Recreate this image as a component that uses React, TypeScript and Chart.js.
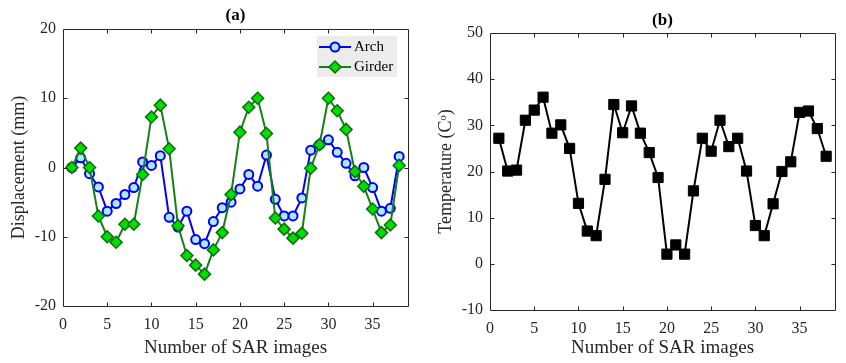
import React, { useEffect, useRef } from "react";
import { Chart, registerables } from "chart.js";

Chart.register(...registerables);

// ---------------- data ----------------
const imageNumbers = [1, 2, 3, 4, 5, 6, 7, 8, 9, 10, 11, 12, 13, 14, 15, 16, 17, 18, 19, 20, 21, 22, 23, 24, 25, 26, 27, 28, 29, 30, 31, 32, 33, 34, 35, 36, 37, 38];

const archDisplacement = [0, 1.4, -0.9, -2.8, -6.3, -5.2, -3.9, -2.9, 0.8, 0.3, 1.7, -7.2, -8.6, -6.3, -10.4, -11.0, -7.8, -5.8, -5.0, -3.1, -1.0, -2.7, 1.8, -4.6, -7.0, -7.0, -4.4, 2.5, 3.3, 4.0, 2.2, 0.6, -1.2, 0.0, -2.9, -6.3, -5.9, 1.6];

const girderDisplacement = [0, 2.8, 0.0, -7.0, -10.0, -10.8, -8.2, -8.2, -1.0, 7.3, 9.0, 2.7, -8.4, -12.7, -14.1, -15.4, -11.9, -9.4, -3.9, 5.1, 8.7, 10.0, 4.9, -7.3, -8.9, -10.2, -9.5, -0.1, 3.3, 10.0, 8.2, 5.5, -0.6, -2.7, -6.0, -9.4, -8.3, 0.3];

const temperature = [27.2, 20.1, 20.3, 31.1, 33.3, 36.1, 28.3, 30.1, 25.0, 13.1, 7.1, 6.1, 18.3, 34.5, 28.4, 34.2, 28.3, 24.1, 18.7, 2.1, 4.1, 2.1, 15.8, 27.2, 24.4, 31.1, 25.4, 27.2, 20.1, 8.3, 6.1, 13.0, 20.0, 22.1, 32.8, 33.1, 29.3, 23.3];

const xTicks = [0, 5, 10, 15, 20, 25, 30, 35];
const dispTicks = [-20, -10, 0, 10, 20];
const tempTicks = [-10, 0, 10, 20, 30, 40, 50];

const xTitle = "Number of SAR images";
const dispTitle = "Displacement (mm)";
const tempTitle = "Temperature (C\u1D52)";

// ---------------- styling ----------------
const SERIF = "'Liberation Serif', 'Times New Roman', serif";
const AXIS_COLOR = "#262626";

const frameAndTicks = {
  id: "frameAndTicks",
  afterDatasetsDraw(chart: any) {
    const { ctx, chartArea } = chart;
    const left = Math.round(chartArea.left) + 0.5;
    const right = Math.round(chartArea.right) + 0.5;
    const top = Math.round(chartArea.top) + 0.5;
    const bottom = Math.round(chartArea.bottom) + 0.5;
    const tl = 4;
    ctx.save();
    ctx.strokeStyle = AXIS_COLOR;
    ctx.lineWidth = 1;
    ctx.beginPath();
    ctx.rect(left, top, right - left, bottom - top);
    const xs = chart.scales.x;
    xs.ticks.forEach((t: any) => {
      const p = Math.round(xs.getPixelForValue(t.value)) + 0.5;
      if (p <= left + 1 || p >= right - 1) return;
      ctx.moveTo(p, bottom);
      ctx.lineTo(p, bottom - tl);
      ctx.moveTo(p, top);
      ctx.lineTo(p, top + tl);
    });
    const ys = chart.scales.y;
    ys.ticks.forEach((t: any) => {
      const p = Math.round(ys.getPixelForValue(t.value)) + 0.5;
      if (p <= top + 1 || p >= bottom - 1) return;
      ctx.moveTo(left, p);
      ctx.lineTo(left + tl, p);
      ctx.moveTo(right, p);
      ctx.lineTo(right - tl, p);
    });
    ctx.stroke();
    ctx.restore();
  },
};

const insideLegend = {
  id: "insideLegend",
  afterDraw(chart: any, _args: any, opts: any) {
    if (!opts || !opts.show) return;
    const { ctx, chartArea } = chart;
    const w = 80;
    const h = 41;
    const x0 = chartArea.right - 11 - w;
    const y0 = chartArea.top + 7;
    ctx.save();
    ctx.fillStyle = "#ececec";
    ctx.fillRect(x0, y0, w, h);
    const sets = chart.data.datasets;
    sets.forEach((ds: any, i: number) => {
      const cy = y0 + 11 + i * 20;
      const lx0 = x0 + 2;
      const lx1 = x0 + 34;
      const mx = (lx0 + lx1) / 2;
      ctx.strokeStyle = ds.borderColor;
      ctx.lineWidth = ds.borderWidth;
      ctx.beginPath();
      ctx.moveTo(lx0, cy);
      ctx.lineTo(lx1, cy);
      ctx.stroke();
      ctx.fillStyle = ds.pointBackgroundColor;
      ctx.strokeStyle = ds.pointBorderColor;
      ctx.lineWidth = ds.pointBorderWidth;
      const r = ds.pointRadius;
      ctx.beginPath();
      if (ds.pointStyle === "rectRot") {
        ctx.moveTo(mx - r, cy);
        ctx.lineTo(mx, cy - r);
        ctx.lineTo(mx + r, cy);
        ctx.lineTo(mx, cy + r);
        ctx.closePath();
      } else {
        ctx.arc(mx, cy, r, 0, Math.PI * 2);
      }
      ctx.fill();
      ctx.stroke();
      ctx.fillStyle = "#000";
      ctx.font = `15px ${SERIF}`;
      ctx.textBaseline = "middle";
      ctx.textAlign = "left";
      ctx.fillText(ds.label, x0 + 37, cy + 0.5);
    });
    ctx.restore();
  },
};

function fixedTicks(values: number[]) {
  return (scale: any) => {
    scale.ticks = values.map((v) => ({ value: v }));
  };
}

function buildOptions(p: {
  title: string;
  titlePad: { top: number; bottom: number };
  yMin: number;
  yMax: number;
  yTicks: number[];
  yTitle: string;
  yTitlePad: number;
  yWidth: number;
  xHeight: number;
  rightPad: number;
  legend: boolean;
}) {
  return {
    responsive: false,
    animation: false,
    devicePixelRatio: 1,
    layout: { padding: { left: 0, right: p.rightPad, top: 0, bottom: 0 } },
    plugins: {
      legend: { display: false },
      tooltip: { enabled: false },
      insideLegend: { show: p.legend },
      title: {
        display: true,
        text: p.title,
        fullSize: false,
        color: "#000",
        font: { family: SERIF, size: 17, weight: "bold", lineHeight: 1.2 },
        padding: p.titlePad,
      },
    },
    scales: {
      x: {
        type: "linear",
        min: 0,
        max: 39,
        afterBuildTicks: fixedTicks(xTicks),
        afterFit: (s: any) => {
          s.height = p.xHeight;
        },
        grid: { display: false, drawTicks: false },
        border: { display: false },
        ticks: {
          autoSkip: false,
          maxRotation: 0,
          padding: 9,
          color: AXIS_COLOR,
          font: { family: SERIF, size: 16 },
        },
        title: {
          display: true,
          text: xTitle,
          color: AXIS_COLOR,
          font: { family: SERIF, size: 19, lineHeight: 1.2 },
          padding: { top: 0, bottom: 4 },
        },
      },
      y: {
        type: "linear",
        min: p.yMin,
        max: p.yMax,
        afterBuildTicks: fixedTicks(p.yTicks),
        afterFit: (s: any) => {
          s.width = p.yWidth;
        },
        grid: { display: false, drawTicks: false },
        border: { display: false },
        ticks: {
          autoSkip: false,
          padding: 7,
          color: AXIS_COLOR,
          font: { family: SERIF, size: 16 },
        },
        title: {
          display: true,
          text: p.yTitle,
          color: AXIS_COLOR,
          font: { family: SERIF, size: 18, lineHeight: 1.2 },
          padding: { top: p.yTitlePad, bottom: 0 },
        },
      },
    },
  };
}

export default function App() {
  const refA = useRef<HTMLCanvasElement>(null);
  const refB = useRef<HTMLCanvasElement>(null);

  useEffect(() => {
    const chartA = new Chart(refA.current as HTMLCanvasElement, {
      type: "line",
      data: {
        datasets: [
          {
            label: "Arch",
            data: imageNumbers.map((x, i) => ({ x, y: archDisplacement[i] })),
            borderColor: "#0000ff",
            borderWidth: 2,
            pointStyle: "circle",
            pointRadius: 4.5,
            pointBorderWidth: 2,
            pointBorderColor: "#0000ff",
            pointBackgroundColor: "#aee8fa",
            tension: 0,
            order: 1,
          },
          {
            label: "Girder",
            data: imageNumbers.map((x, i) => ({ x, y: girderDisplacement[i] })),
            borderColor: "#168016",
            borderWidth: 2,
            pointStyle: "rectRot",
            pointRadius: 6,
            pointBorderWidth: 1.5,
            pointBorderColor: "#0b6e0b",
            pointBackgroundColor: "#00dd00",
            tension: 0,
            order: 0,
          },
        ],
      } as any,
      options: buildOptions({
        title: "(a)",
        titlePad: { top: 5, bottom: 3.6 },
        yMin: -20,
        yMax: 20,
        yTicks: dispTicks,
        yTitle: dispTitle,
        yTitlePad: 8,
        yWidth: 63,
        xHeight: 57,
        rightPad: 15,
        legend: true,
      }) as any,
      plugins: [frameAndTicks, insideLegend],
    });

    const chartB = new Chart(refB.current as HTMLCanvasElement, {
      type: "line",
      data: {
        datasets: [
          {
            label: "Temperature",
            data: imageNumbers.map((x, i) => ({ x, y: temperature[i] })),
            borderColor: "#000000",
            borderWidth: 2,
            pointStyle: "rect",
            pointRadius: 7.2,
            pointBorderWidth: 1,
            pointBorderColor: "#000000",
            pointBackgroundColor: "#000000",
            tension: 0,
          },
        ],
      } as any,
      options: buildOptions({
        title: "(b)",
        titlePad: { top: 10, bottom: 2.6 },
        yMin: -10,
        yMax: 50,
        yTicks: tempTicks,
        yTitle: tempTitle,
        yTitlePad: 12,
        yWidth: 67,
        xHeight: 53,
        rightPad: 11,
        legend: false,
      }) as any,
      plugins: [frameAndTicks, insideLegend],
    });

    return () => {
      chartA.destroy();
      chartB.destroy();
    };
  }, []);

  return (
    <div
      style={{
        position: "fixed",
        left: 0,
        top: 0,
        width: 846,
        height: 363,
        background: "#ffffff",
      }}
    >
      <canvas
        ref={refA}
        width={423}
        height={363}
        style={{ position: "absolute", left: 0, top: 0, width: 423, height: 363 }}
      />
      <canvas
        ref={refB}
        width={423}
        height={363}
        style={{ position: "absolute", left: 423, top: 0, width: 423, height: 363 }}
      />
    </div>
  );
}
